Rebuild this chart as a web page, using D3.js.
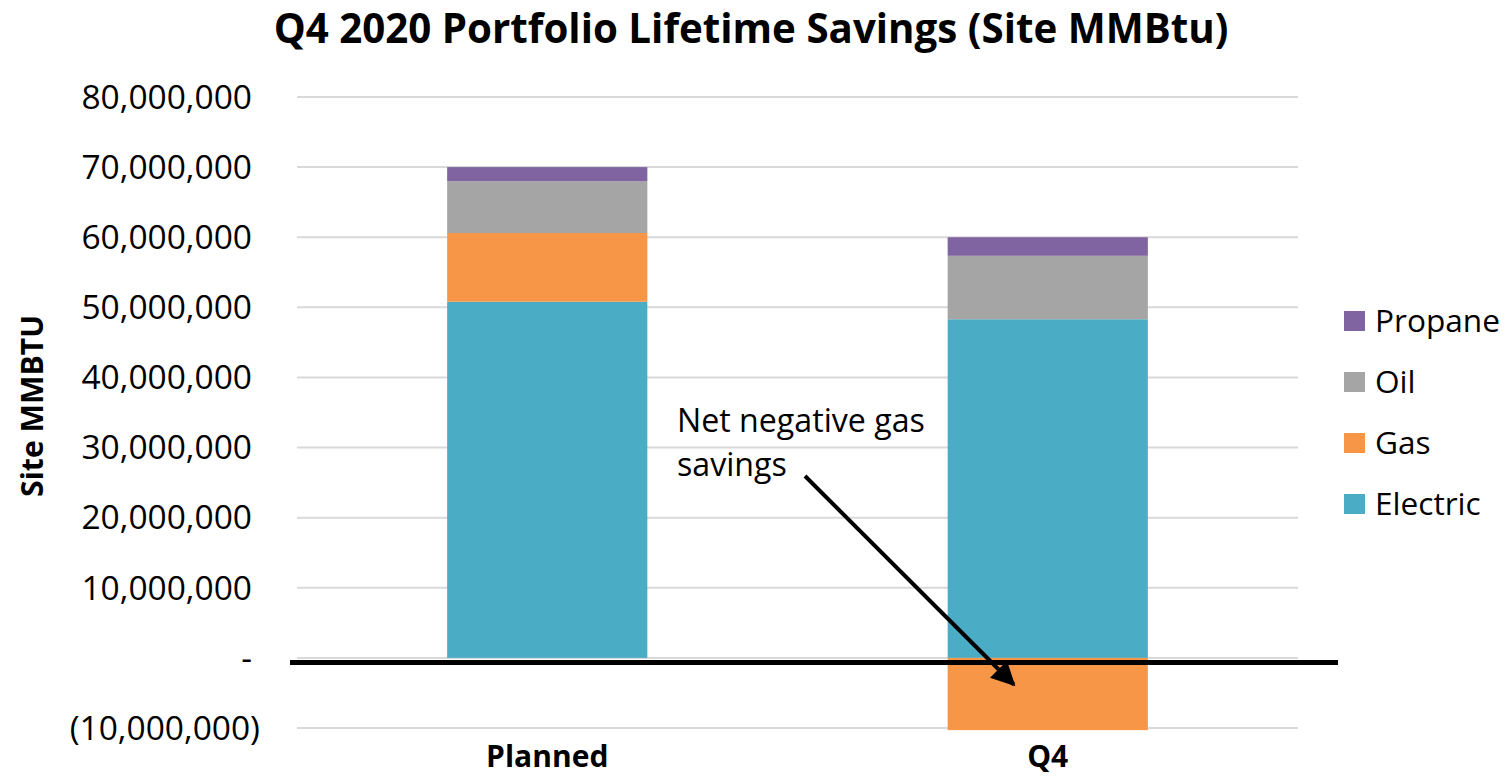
<!DOCTYPE html>
<html>
<head>
<meta charset="utf-8">
<script src="https://cdn.jsdelivr.net/npm/d3@7"></script>
<style>
  body { margin: 0; background: #fff; }
  text { font-family: "Open Sans", sans-serif; fill: #000; }
</style>
</head>
<body>
<svg id="chart" width="1509" height="776"></svg>
<script>
// data
var categories = ["Planned", "Q4"];
var seriesNames = ["Electric", "Gas", "Oil", "Propane"];
var electric = [50800000, 48300000];
var gas = [9800000, -10300000];
var oil = [7400000, 9050000];
var propane = [2000000, 2650000];
var tickValues = [-10000000, 0, 10000000, 20000000, 30000000, 40000000, 50000000, 60000000, 70000000, 80000000];
var colors = ["#4BACC6", "#F79646", "#A5A5A5", "#8064A2"];

var svg = d3.select("#chart");

// plot area
var margin = {top: 97, left: 297, right: 211, bottom: 48},
    width = 1509 - margin.left - margin.right,
    height = 776 - margin.top - margin.bottom;

var x = d3.scaleBand()
    .domain(categories)
    .range([margin.left, margin.left + width])
    .paddingInner(0.6)
    .paddingOuter(0.3);

var y = d3.scaleLinear()
    .domain([-10000000, 80000000])
    .range([margin.top + height, margin.top]);

// build stacked table, negatives stacked down from zero
var table = categories.map(function(c, i) {
  return {cat: c, Electric: electric[i], Gas: gas[i], Oil: oil[i], Propane: propane[i]};
});
var stack = d3.stack().keys(seriesNames).offset(d3.stackOffsetDiverging);
var layers = stack(table);

// scale text so it fills a measured width
function fit(sel, w) {
  var fs = parseFloat(sel.attr("font-size"));
  var l = sel.node().getComputedTextLength();
  sel.attr("font-size", (fs * w / l).toFixed(2));
}

// gridlines
svg.append("g").selectAll("line")
    .data(tickValues)
  .enter().append("line")
    .attr("x1", margin.left)
    .attr("x2", margin.left + width)
    .attr("y1", function(d) { return y(d); })
    .attr("y2", function(d) { return y(d); })
    .attr("stroke", "#d9d9d9")
    .attr("stroke-width", 2);

// y tick labels, accounting style
function fmt(d) {
  if (d === 0) return "-";
  var s = d3.format(",")(Math.abs(d));
  return d < 0 ? "(" + s + ")" : s;
}
svg.append("g").selectAll("text")
    .data(tickValues)
  .enter().append("text")
    .attr("x", function(d) { return d < 0 ? 260 : 252; })
    .attr("y", function(d) { return y(d); })
    .attr("dy", "0.35em")
    .attr("text-anchor", "end")
    .attr("font-size", 33.5)
    .text(fmt);

// bars
svg.append("g").selectAll("g")
    .data(layers)
  .enter().append("g")
    .attr("fill", function(d, i) { return colors[i]; })
  .selectAll("rect")
    .data(function(d) { return d; })
  .enter().append("rect")
    .attr("x", function(d) { return x(d.data.cat); })
    .attr("width", x.bandwidth())
    .attr("y", function(d) { return y(Math.max(d[0], d[1])); })
    .attr("height", function(d) { return Math.abs(y(d[0]) - y(d[1])); });

// x labels
svg.append("g").selectAll("text")
    .data(categories)
  .enter().append("text")
    .attr("x", function(d) { return x(d) + x.bandwidth() / 2; })
    .attr("y", 767)
    .attr("text-anchor", "middle")
    .attr("font-weight", "bold")
    .attr("font-size", 30)
    .text(function(d) { return d; });

// heavy zero line
svg.append("line")
    .attr("x1", 290).attr("x2", 1338)
    .attr("y1", y(0) + 4.5).attr("y2", y(0) + 4.5)
    .attr("stroke", "#000")
    .attr("stroke-width", 5);

// title
var title = svg.append("text")
    .attr("x", 751)
    .attr("y", 43)
    .attr("text-anchor", "middle")
    .attr("font-weight", "bold")
    .attr("font-size", 38)
    .text("Q4 2020 Portfolio Lifetime Savings (Site MMBtu)");
fit(title, 955);

// y axis title
var ytitle = svg.append("text")
    .attr("transform", "translate(43,406) rotate(-90)")
    .attr("text-anchor", "middle")
    .attr("font-weight", "bold")
    .attr("font-size", 26)
    .text("Site MMBTU");
fit(ytitle, 182);

// legend, top to bottom reversed
var legendNames = seriesNames.slice().reverse();
var legend = svg.append("g").selectAll("g")
    .data(legendNames)
  .enter().append("g")
    .attr("transform", function(d, i) { return "translate(1344," + (321 + i * 61) + ")"; });
legend.append("rect")
    .attr("x", 0).attr("y", -10)
    .attr("width", 21).attr("height", 20)
    .attr("fill", function(d) { return colors[seriesNames.indexOf(d)]; });
legend.append("text")
    .attr("x", 31)
    .attr("dy", "0.35em")
    .attr("font-size", 29)
    .text(function(d) { return d; });
var propLabel = legend.filter(function(d) { return d === "Propane"; }).select("text");
fit(propLabel, 125);
legend.selectAll("text").attr("font-size", propLabel.attr("font-size"));

// annotation
var note = svg.append("text")
    .attr("x", 677)
    .attr("y", 432)
    .attr("font-size", 29);
note.append("tspan").attr("x", 677).text("Net negative gas");
var noteW = note.select("tspan").node().getComputedTextLength();
note.attr("font-size", (29 * 248 / noteW).toFixed(2));
note.append("tspan").attr("x", 677).attr("dy", 44).text("savings");

svg.append("defs").append("marker")
    .attr("id", "arrow")
    .attr("viewBox", "0 0 10 10")
    .attr("refX", 9).attr("refY", 5)
    .attr("markerWidth", 6).attr("markerHeight", 6)
    .attr("markerUnits", "strokeWidth")
    .attr("orient", "auto")
  .append("path")
    .attr("d", "M0,0 L10,5 L0,10 Z")
    .attr("fill", "#000");

svg.append("line")
    .attr("x1", 805).attr("y1", 476)
    .attr("x2", x("Q4") + x.bandwidth() / 2 - 34).attr("y2", y(-3800000))
    .attr("stroke", "#000")
    .attr("stroke-width", 4)
    .attr("marker-end", "url(#arrow)");
</script>
</body>
</html>
